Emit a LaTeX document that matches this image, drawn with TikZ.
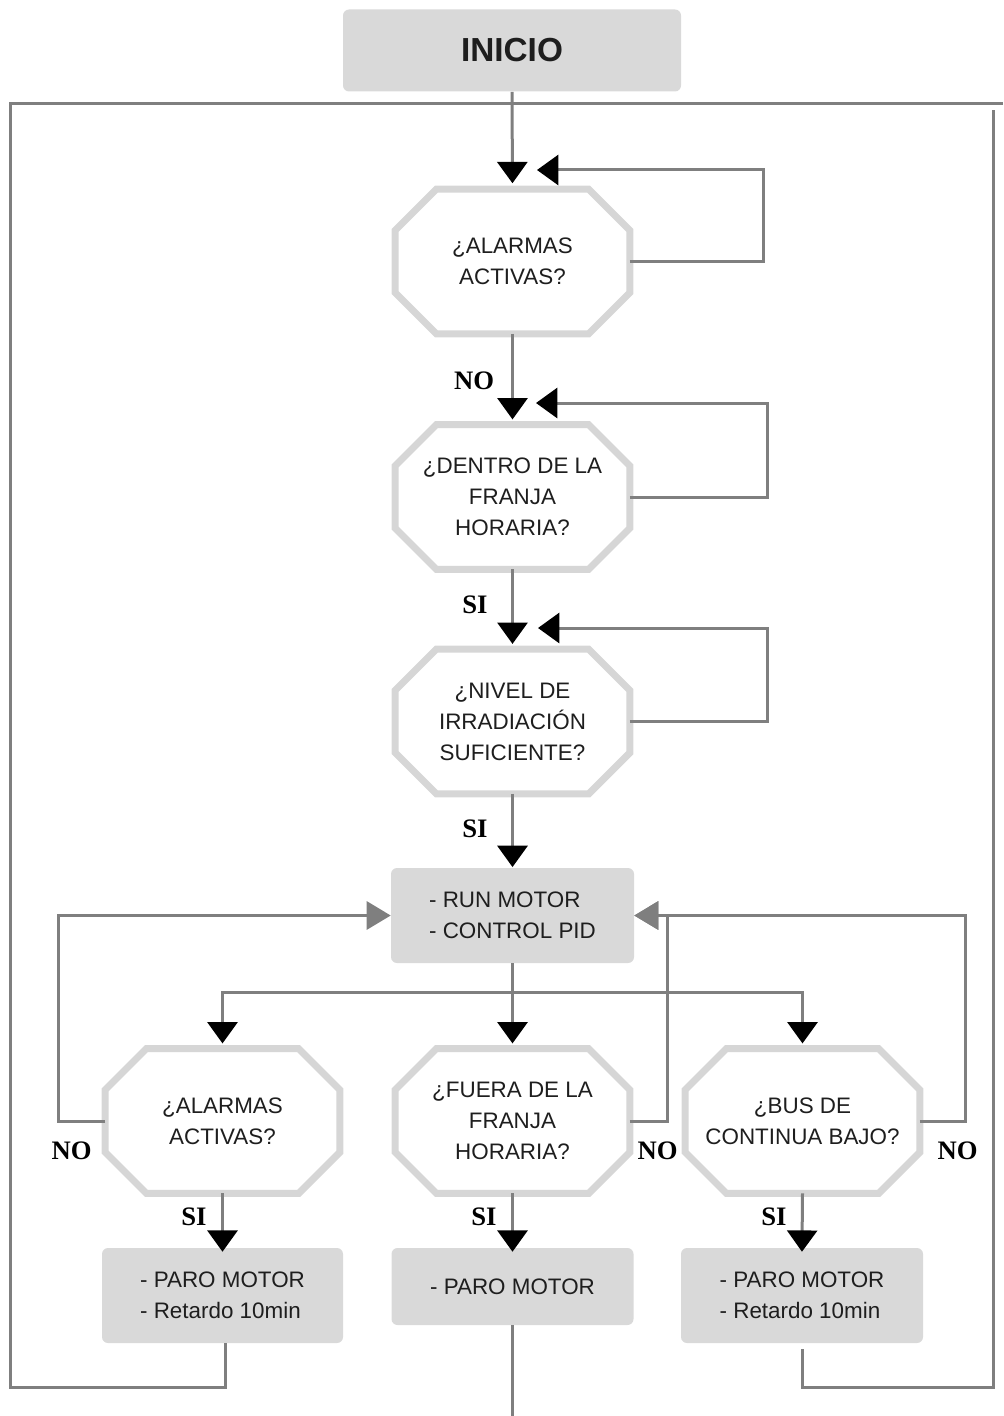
\documentclass[tikz,border=0pt]{standalone}
\usepackage{fontspec}
\setmainfont{Liberation Sans}
\newfontfamily\lblfont{Liberation Serif}
\usetikzlibrary{arrows.meta,calc}
\definecolor{boxgray}{HTML}{D9D9D9}
\definecolor{octgray}{HTML}{D6D6D6}
\definecolor{linegray}{HTML}{7F7F7F}
\definecolor{txt}{HTML}{1E1E1E}
\newcommand\drawoct[1]{%
  \draw[octline] ($(#1.north west)+(41,0)$) -- ($(#1.north east)+(-41,0)$)
   -- ($(#1.north east)+(0,41)$) -- ($(#1.south east)+(0,-41)$)
   -- ($(#1.south east)+(-41,0)$) -- ($(#1.south west)+(41,0)$)
   -- ($(#1.south west)+(0,-41)$) -- ($(#1.north west)+(0,41)$) -- cycle;}
\begin{document}
\begin{tikzpicture}[x=0.75pt,y=-0.75pt,
  txtfont/.style={font=\fontsize{16.8}{23.25}\selectfont, text=txt},
  boxnode/.style={txtfont, fill=boxgray, rounded corners=4.5pt, inner sep=0pt},
  octnode/.style={txtfont, align=center, inner sep=0pt, minimum width=175.5pt, minimum height=108pt},
  octline/.style={draw=octgray, line width=5.25pt, fill=white, line join=miter},
  conn/.style={draw=linegray, line width=2.25pt},
  arrB/.style={-{Triangle[width=22.5pt,length=16pt,color=black]}},
  arrG/.style={-{Triangle[width=21pt,length=18pt,color=linegray]}},
  lbl/.style={font=\lblfont\bfseries\fontsize{20}{24}\selectfont, text=black, inner sep=0pt}
]
\useasboundingbox (0,0) rectangle (1003,1416);
% nodes
\node[boxnode, minimum width=253.5pt, minimum height=61.5pt, font=\bfseries\fontsize{25}{30}\selectfont] (inicio) at (512,50.5) {INICIO};
\node[octnode] (q1) at (512.5,261.5) {};
\node[octnode] (q2) at (512.5,497) {};
\node[octnode] (q3) at (512.5,721.5) {};
\node[boxnode, align=left, minimum width=182.25pt, minimum height=71.25pt] (run) at (512.5,915.5) {- RUN MOTOR\\- CONTROL PID};
\node[octnode] (qa) at (222.5,1121) {};
\node[octnode] (qb) at (512.5,1121) {};
\node[octnode] (qc) at (802.5,1121) {};
\node[boxnode, align=left, minimum width=180.75pt, minimum height=71.25pt] (pa) at (222.5,1295.5) {- PARO MOTOR\\- Retardo 10min};
\node[boxnode, align=left, minimum width=181.5pt, minimum height=57.75pt] (pb) at (512.5,1286.5) {- PARO MOTOR};
\node[boxnode, align=left, minimum width=181.5pt, minimum height=71.25pt] (pc) at (802,1295.5) {- PARO MOTOR\\- Retardo 10min};
% octagon outlines and their texts
\foreach \n in {q1,q2,q3,qa,qb,qc} {\drawoct{\n}}
\node[octnode] (q1t) at (q1) {¿ALARMAS\\ACTIVAS?};
\node[octnode] (q2t) at (q2) {¿DENTRO DE LA\\FRANJA\\HORARIA?};
\node[octnode] (q3t) at (q3) {¿NIVEL DE\\IRRADIACIÓN\\SUFICIENTE?};
\node[octnode] (qat) at (qa) {¿ALARMAS\\ACTIVAS?};
\node[octnode] (qbt) at (qb) {¿FUERA DE LA\\FRANJA\\HORARIA?};
\node[octnode] (qct) at (qc) {¿BUS DE\\CONTINUA BAJO?};
% free ends
\coordinate (t1) at (537,170);
\coordinate (t2) at (536,403);
\coordinate (t3) at (538,628);
\coordinate (bend) at (512.5,1416);
% outer return loop
\draw[conn] ($(pa.south)+(3,0)$) -- (225.5,1387) -| (10,104) -- (1003,104);
\draw[conn] (pc.south) ++(0,6) |- (993,1387) -- (993,110);
\draw[conn] (pb.south) -- (bend);
% main flow
\draw[conn,arrB,shorten >=4.5pt] (inicio.south) -- (q1.north);
\draw[conn,arrB,shorten >=4pt] (q1.south) -- (q2.north);
\draw[conn,arrB,shorten >=4pt] (q2.south) -- (q3.north);
\draw[conn,arrB,shorten >=0.5pt] (q3.south) -- (run.north);
% self loops
\draw[conn,arrB] (q1.east) -| (763,170) -- (t1);
\draw[conn,arrB] (q2.east) -| (767,403) -- (t2);
\draw[conn,arrB] (q3.east) -| (767,628) -- (t3);
% split
\draw[conn,arrB,shorten >=4pt] (run.south) -- ++(0,29) -| (qa.north);
\draw[conn,arrB,shorten >=4pt] (run.south) -- (qb.north);
\draw[conn,arrB,shorten >=4pt] (run.south) -- ++(0,29) -| (qc.north);
% NO loops back to run
\draw[conn,arrG] (qa.west) -- (58,1121) |- (run.west);
\draw[conn,arrG] (qb.east) -- (667,1121) |- (run.east);
\draw[conn,arrG] (qc.east) -- (965,1121) |- (run.east);
% SI arrows
\draw[conn,arrB,shorten >=-3pt] (qa.south) -- (pa.north);
\draw[conn,arrB,shorten >=-3pt] (qb.south) -- (pb.north);
\draw[conn,arrB,shorten >=-3pt] (qc.south) -- (pc.north);
% labels
\node[lbl] (l1) at (474,381) {NO};
\node[lbl] (l2) at (475,605) {SI};
\node[lbl] (l3) at (475,829) {SI};
\node[lbl] (l4) at (71.5,1151) {NO};
\node[lbl] (l5) at (657.5,1151) {NO};
\node[lbl] (l6) at (957.5,1151) {NO};
\node[lbl] (l7) at (194,1217) {SI};
\node[lbl] (l8) at (484,1217) {SI};
\node[lbl] (l9) at (774,1217) {SI};
\end{tikzpicture}
\end{document}
